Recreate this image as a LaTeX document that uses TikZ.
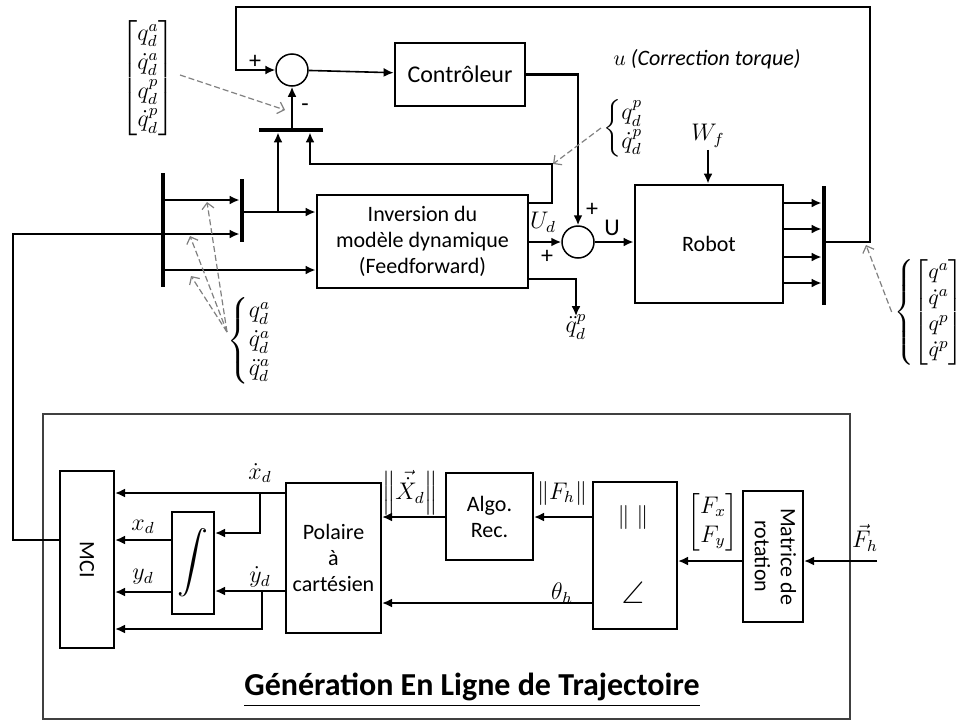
\documentclass[tikz,border=0pt]{standalone}
\usepackage{amsmath,amssymb}
\usepackage[no-math]{fontspec}
\setmainfont{Carlito}
\usetikzlibrary{arrows.meta}
\newcommand\bsz{\fontsize{11}{13}\selectfont}
\newcommand\lsz{\fontsize{12}{14.4}\selectfont}
\tikzset{
 blk/.style={draw,line width=1.4pt,align=center,font=\bsz,inner sep=1pt},
 sblk/.style={draw,line width=1pt,align=center,font=\bsz,inner sep=1pt},
 sumc/.style={draw,circle,line width=0.75pt,minimum size=16pt,inner sep=0pt},
 bar/.style={fill,inner sep=0pt},
 sig/.style={line width=1.2pt,-{Latex[length=5pt,width=4.5pt]}},
 fb/.style={line width=0.8pt,-{Latex[length=5pt,width=4.5pt]}},
 wire/.style={line width=0.8pt},
 hint/.style={gray,line width=0.6pt,dash pattern=on 3pt off 1.5pt,-{Straight Barb[length=3pt,width=6pt]}},
 lab/.style={font=\lsz,inner sep=1pt},
}
\begin{document}
\begin{tikzpicture}[x=0.5pt,y=-0.5pt]
\useasboundingbox (0,0) rectangle (962,723);
\node[sumc] (s1) at (292,70) {};
\node[sumc] (s2) at (578,242) {};
\node[blk,minimum width=65pt,minimum height=31.5pt,font=\fontsize{12}{14}\selectfont] (ctrl) at (460,74.5) {Contrôleur};
\node[blk,minimum width=105.5pt,minimum height=46.5pt] (inv) at (422.5,241.5) {Inversion du\\modèle dynamique\\(Feedforward)};
\node[blk,minimum width=74pt,minimum height=59pt] (rob) at (709,244) {Robot};
\node[bar,minimum width=32pt,minimum height=2pt] (mux) at (291,130) {};
\node[bar,minimum width=2pt,minimum height=57pt] (dm1) at (163,230) {};
\node[bar,minimum width=2pt,minimum height=31.5pt] (dm2) at (242,210.5) {};
\node[bar,minimum width=2pt,minimum height=59.5pt] (rbar) at (824,245.5) {};

\node[lab] (pl1) at (255,62) {+};
\node[lab] (mn1) at (305,108) {-};
\node[lab] (pl2) at (592,210) {+};
\node[lab] (pl3) at (547,257) {+};
\node[lab] (ud) at (543,222) {$U_d$};
\node[lab] (uu) at (612,228) {U};
\node[lab] (wf) at (708,136) {$W_f$};
\node[lab] (qddp) at (576,327) {$\ddot q_d^p$};
\node[lab,font=\bsz] (corr) at (707,59) {$u$ \textit{(Correction torque)}};
\node[lab] (qv) at (148,78) {$\begin{bmatrix} q_d^a\\ \dot q_d^a\\ q_d^p\\ \dot q_d^p\end{bmatrix}$};
\node[lab] (qdp) at (624,128) {$\left\{\begin{array}{@{}l@{}} q_d^p\\ \dot q_d^p\end{array}\right.$};
\node[lab] (qda) at (250,341) {$\left\{\begin{array}{@{}l@{}} q_d^a\\ \dot q_d^a\\ \ddot q_d^a\end{array}\right.$};
\node[lab,font=\bsz] (qr) at (930,312) {$\left\{\begin{bmatrix} q^a\\ \dot q^a\\ q^p\\ \dot q^p\end{bmatrix}\right.$};

\draw[fb] (rbar.east |- 0,242) -- (870,242) |- (236,7) |- (s1.west);
\draw[fb] (s1) -- (ctrl);
\draw[sig] (ctrl.east) -| (s2.north);
\draw[sig] (mux.north -| s1) -- (s1.south);
\draw[sig] (inv.east |- 0,203) -| (552,164) -| (mux.south -| 310,0);
\draw[sig] (278,212) -- (mux.south -| 278,0);
\draw[sig] (dm2.east |- 0,212) -- (inv.west |- 0,212);
\foreach\y in{200,234} \draw[sig] (dm1.east |- 0,\y) -- (dm2.west |- 0,\y);
\draw[sig] (dm1.east |- 0,270) -- (inv.west |- 0,270);
\draw[sig] (inv.east |- s2) -- (s2.west);
\draw[sig] (s2.east) -- (s2.east -| rob.west);
\draw[sig] (inv.east |- 0,279) -| ([yshift=-2pt]qddp.north);
\draw[sig] (wf.south) -- (wf.south |- rob.north);
\foreach\y in{203,229,257,283} \draw[sig] (rob.east |- 0,\y) -- (rbar.west |- 0,\y);

\coordinate (h1) at (285,110);
\coordinate (h2) at (553,164);
\coordinate (h3) at (866,245);
\draw[hint] (180,75) -- (h1);
\draw[hint] (qdp.west) -- (h2);
\draw[hint] (qr.west) -- (h3);
\foreach\p in{(207,202),(190,236),(191,276)} \draw[hint] (227,332) -- \p;

% Generation en ligne
\draw[line width=1.3pt,black!75] (43,414) rectangle (850,719);
\node[sblk,minimum width=27pt,minimum height=88.5pt] (mci) at (87,559.5) {\rotatebox{-90}{MCI}};
\node[sblk,minimum width=21pt,minimum height=51pt] (integ) at (193,563) {\scalebox{1.4}{$\displaystyle\int$}};
\node[sblk,minimum width=47.5pt,minimum height=75pt] (pol) at (333.5,558) {Polaire\\à\\cartésien};
\node[sblk,minimum width=43.5pt,minimum height=43.5pt] (algo) at (489.5,516.5) {Algo.\\Rec.};
\node[sblk,minimum width=42pt,minimum height=73.5pt] (nang) at (635,555.5) {};
\node[lab] (nrm) at (633,517) {$\|\;\|$};
\node[lab] (ang) at (633,593) {\scalebox{1.3}{$\angle$}};
\node[sblk,minimum width=30pt,minimum height=65.5pt] (rot) at (773,556.5) {\rotatebox{-90}{\begin{tabular}{@{}c@{}}Matrice de\\rotation\end{tabular}}};
\node[lab] (xdd) at (260,473) {$\dot x_d$};
\node[lab] (xd) at (143,527) {$x_d$};
\node[lab] (yd) at (143,577) {$y_d$};
\node[lab] (ydd) at (260,577) {$\dot y_d$};
\node[lab] (nx) at (410,493) {$\left\|\vec{\dot X}_d\right\|$};
\node[lab] (nf) at (562,493) {$\|F_h\|$};
\node[lab] (th) at (562,593) {$\theta_h$};
\node[lab] (fxy) at (713,522) {$\begin{bmatrix}F_x\\F_y\end{bmatrix}$};
\node[lab] (fh) at (865,538) {$\vec F_h$};
\node[font=\bfseries\fontsize{16}{19}\selectfont] (ttl) at (472,690) {\underline{Génération En Ligne de Trajectoire}};

\draw[wire] (mci.west |- 0,540) -| (13,234) -- (dm1.west |- 0,234);
\coordinate (fin) at (877,561);
\draw[sig] (fin) -- (fin -| rot.east);
\draw[sig] (rot.west |- fin) -- (nang.east |- fin);
\draw[sig] (nang.west |- 0,517) -- (algo.east |- 0,517);
\draw[sig] (algo.west |- 0,517) -- (pol.east |- 0,517);
\draw[sig] (nang.west |- 0,603) -- (pol.east |- 0,603);
\draw[sig] (pol.west |- 0,493) -- (mci.east |- 0,493);
\draw[sig] (260,493) |- (integ.east |- 0,533);
\draw[sig] (integ.west |- 0,540) -- (mci.east |- 0,540);
\draw[sig] (integ.west |- 0,592) -- (mci.east |- 0,592);
\draw[sig] (pol.west |- 0,591) -- (integ.east |- 0,591);
\draw[sig] (262,591) |- (mci.east |- 0,629);
\end{tikzpicture}
\end{document}
